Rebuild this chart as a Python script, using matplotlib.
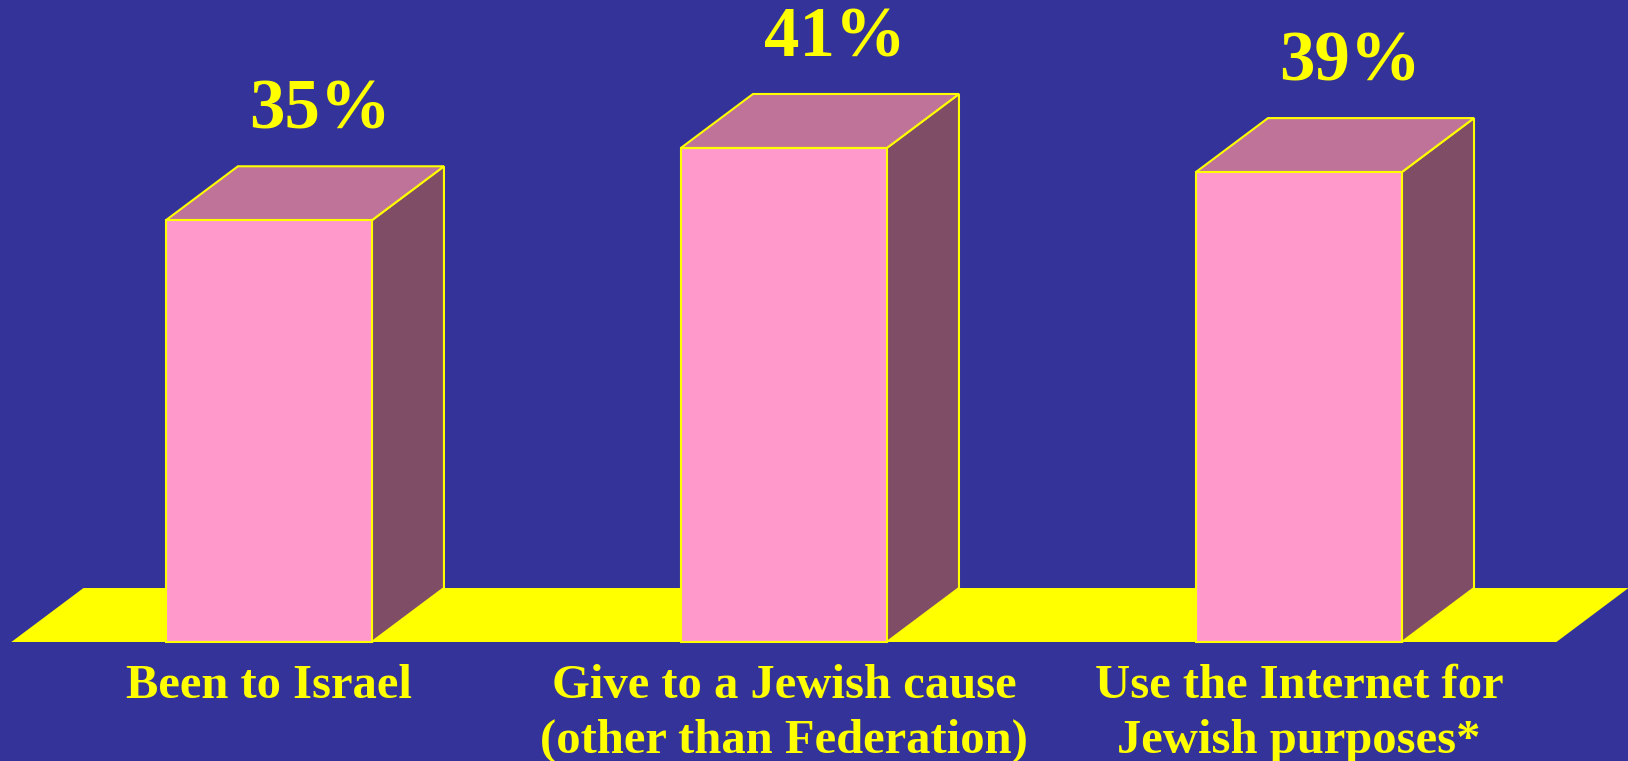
#!/usr/bin/env python3
# -*- coding: utf-8 -*-

import matplotlib
matplotlib.use("Agg")
import matplotlib.pyplot as plt

categories = ["Been to Israel",
              "Give to a Jewish cause\n(other than Federation)",
              "Use the Internet for\nJewish purposes*"]
values = [35, 41, 39]
value_labels = ["35%", "41%", "39%"]

BG = "#333399"
FRONT = "#FF99CC"
TOP = "#BF7399"
SIDE = "#804D66"
YELLOW = "#FFFF00"

BAR_W = 0.4
DX = 0.14   # depth offset in x (category units)
DY = 4.48   # depth offset in y (percent units)

fig = plt.figure(figsize=(16.28, 7.61), dpi=100)
fig.patch.set_facecolor(BG)
ax = fig.add_axes([0, 0, 1, 1])
ax.set_facecolor(BG)
ax.set_xlim(-0.522, 2.639)
ax.set_ylim(-9.876, 53.28)
ax.axis("off")

# floor
n = len(values)
x0, x1 = -0.5, n - 0.5
ax.fill([x0, x1, x1 + DX, x0 + DX], [0, 0, DY, DY], color=YELLOW, lw=0, zorder=1)

font = {"family": ["Liberation Serif", "DejaVu Serif"], "weight": "bold", "color": YELLOW}

for i, v in enumerate(values):
    l, r = i - BAR_W / 2, i + BAR_W / 2
    # side face
    ax.fill([r, r + DX, r + DX, r], [0, DY, v + DY, v],
            facecolor=SIDE, edgecolor=YELLOW, lw=1.5, zorder=2)
    # top face
    ax.fill([l, r, r + DX, l + DX], [v, v, v + DY, v + DY],
            facecolor=TOP, edgecolor=YELLOW, lw=1.5, zorder=2)
    # front face
    ax.fill([l, r, r, l], [0, 0, v, v],
            facecolor=FRONT, edgecolor=YELLOW, lw=1.5, zorder=3)

    ax.text(i + 0.1, v + DY + 3.1, value_labels[i], ha="center",
            va="baseline", fontsize=51, **font)
    ax.text(i, -1.8, categories[i], ha="center", va="top", fontsize=35,
            linespacing=1.32, **font)

fig.savefig("out.png", dpi=100, facecolor=BG)
